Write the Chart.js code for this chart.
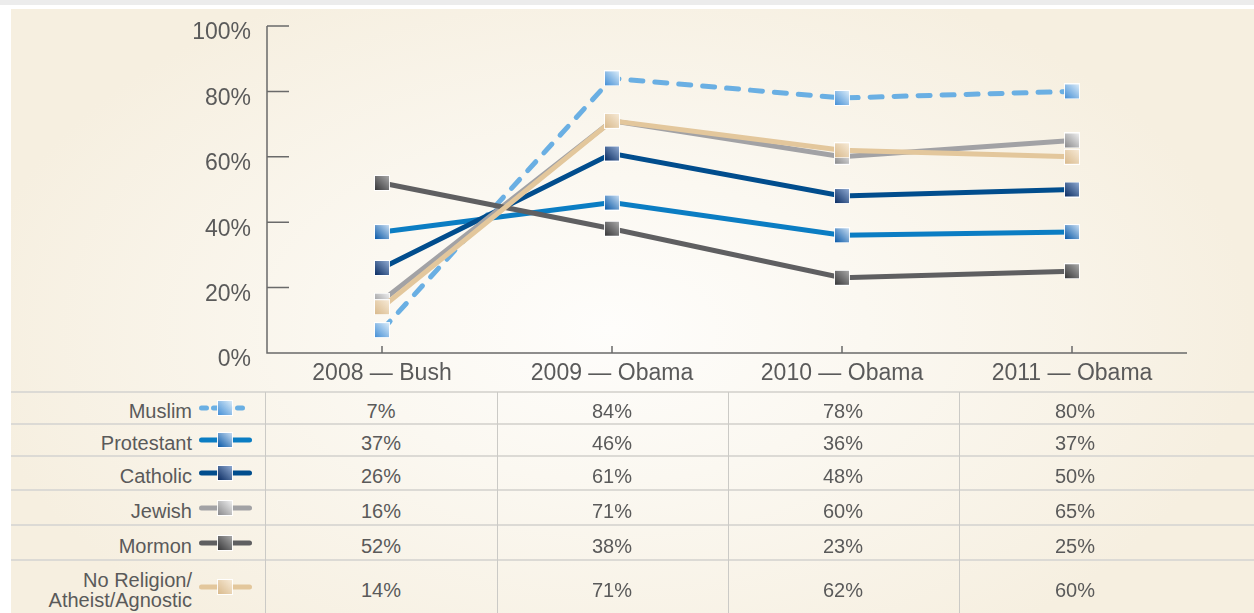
<!DOCTYPE html>
<html lang="en">
<head>
  <meta charset="UTF-8">
  <title>Approval by religious group, 2008–2011</title>
  <script src="https://cdn.jsdelivr.net/npm/chart.js"></script>
  <style>
    html, body { margin: 0; padding: 0; }
    body {
      width: 1254px; height: 613px; position: relative; overflow: hidden;
      background: #ffffff;
      font-family: 'Liberation Sans', Arial, Helvetica, sans-serif;
      color: #5a5a5a;
    }
    .top-band { position: absolute; left: 0; top: 0; width: 1254px; height: 5px; background: #ececec; }
    .panel {
      position: absolute; left: 11px; top: 9px; right: 0; bottom: 0;
      background: radial-gradient(ellipse 640px 380px at 600px 320px, #fefdfb 0%, #fbf8f1 40%, #f6efe0 100%);
    }
    #chartWrap { position: absolute; left: 0; top: 0; width: 1254px; height: 392px; }
    .hline { position: absolute; left: 11px; right: 0; height: 2px; background: #dcdad5; }
    .vline { position: absolute; top: 392px; bottom: 0; width: 1px; background: #cbcac6; }
    .rowlabel {
      position: absolute; right: 1062px; text-align: right; font-size: 20px; line-height: 20px;
      white-space: nowrap;
    }
    .cell { position: absolute; width: 120px; margin-left: -60px; text-align: center; font-size: 20px; line-height: 20px; }
    .swatch { position: absolute; left: 195px; }
  </style>
</head>
<body>
  <div class="top-band"></div>
  <div class="panel"></div>
  <div id="chartWrap"><canvas id="chart" width="1254" height="392"></canvas></div>
  <div id="table"></div>

  <script>
    // Categories and values (percent)
    const years = ['2008 — Bush', '2009 — Obama', '2010 — Obama', '2011 — Obama'];
    const yTicks = [0, 20, 40, 60, 80, 100];
    const muslim = [7, 84, 78, 80];
    const protestant = [37, 46, 36, 37];
    const catholic = [26, 61, 48, 50];
    const jewish = [16, 71, 60, 65];
    const mormon = [52, 38, 23, 25];
    const noReligion = [14, 71, 62, 60];

    const groups = [
      { label: ['Muslim'], data: muslim, line: '#6aafe3', light: '#d9ebf9', dark: '#4690d6', dash: true },
      { label: ['Protestant'], data: protestant, line: '#0b7dc3', light: '#c6dcf2', dark: '#0b5aa8' },
      { label: ['Catholic'], data: catholic, line: '#014d8d', light: '#8ea9d1', dark: '#0b2d63' },
      { label: ['Jewish'], data: jewish, line: '#a2a2a5', light: '#eeeeee', dark: '#8a8a8c' },
      { label: ['Mormon'], data: mormon, line: '#5f5f61', light: '#a8a8a8', dark: '#38383a' },
      { label: ['No Religion/', 'Atheist/Agnostic'], data: noReligion, line: '#e3c79c', light: '#f7ead6', dark: '#d9ba8d' }
    ];

    // small square marker with a diagonal shade
    function makeMarker(light, dark, size) {
      const c = document.createElement('canvas');
      c.width = c.height = size;
      const g = c.getContext('2d');
      g.fillStyle = 'rgba(255,255,255,0.9)';
      g.fillRect(0, 0, size, size);
      const grad = g.createLinearGradient(1, size - 1, size - 1, 1);
      grad.addColorStop(0, dark);
      grad.addColorStop(1, light);
      g.fillStyle = grad;
      g.fillRect(1, 1, size - 2, size - 2);
      return c;
    }

    groups.forEach(gr => { gr.marker = makeMarker(gr.light, gr.dark, 16); });

    // stacking: the tan line sits on top
    const drawOrder = [5, 4, 3, 2, 1, 0];

    const axisLines = {
      id: 'axisLines',
      beforeDatasetsDraw(chart) {
        const { ctx, scales: { x, y } } = chart;
        ctx.save();
        ctx.strokeStyle = '#6a6a6a';
        ctx.lineWidth = 1.5;
        ctx.beginPath();
        ctx.moveTo(x.left, y.top);
        ctx.lineTo(x.left, y.bottom);
        ctx.lineTo(x.right, y.bottom);
        y.ticks.forEach(t => {
          const py = y.getPixelForValue(t.value);
          if (t.value === 0) return;
          ctx.moveTo(x.left, py);
          ctx.lineTo(x.left + 22, py);
        });
        x.ticks.forEach((t, i) => {
          const px = x.getPixelForTick(i);
          ctx.moveTo(px, y.bottom);
          ctx.lineTo(px, y.bottom - 7);
        });
        ctx.stroke();
        ctx.restore();
      }
    };

    Chart.defaults.font.family = "'Liberation Sans', Arial, Helvetica, sans-serif";
    Chart.defaults.color = '#5a5a5a';

    new Chart(document.getElementById('chart'), {
      type: 'line',
      data: {
        labels: years,
        datasets: groups.map((gr, i) => ({
          label: gr.label.join(' '),
          data: gr.data,
          borderColor: gr.line,
          borderWidth: 5,
          borderDash: gr.dash ? [12, 12] : [],
          borderCapStyle: gr.dash ? 'round' : 'butt',
          tension: 0,
          pointStyle: gr.marker,
          pointRadius: 8,
          pointHoverRadius: 8,
          order: drawOrder[i]
        }))
      },
      options: {
        responsive: false,
        animation: false,
        events: [],
        layout: { padding: { top: 26, right: 67, left: 0, bottom: 0 } },
        plugins: { legend: { display: false }, tooltip: { enabled: false } },
        scales: {
          x: {
            offset: true,
            grid: { display: false, drawTicks: false, tickLength: 0 },
            border: { display: false },
            ticks: { font: { size: 23 }, padding: 7, color: '#5a5a5a' },
            afterFit: s => { s.height = 39; s.paddingLeft = 0; s.paddingRight = 0; }
          },
          y: {
            min: 0, max: 100,
            grid: { display: false, drawTicks: false, tickLength: 0 },
            border: { display: false },
            afterBuildTicks: s => { s.ticks = yTicks.map(v => ({ value: v })); },
            ticks: { font: { size: 23 }, padding: 16, labelOffset: 7, color: '#5a5a5a', callback: v => v + '%' },
            afterFit: s => { s.width = 267; s.paddingTop = 0; s.paddingBottom = 0; }
          }
        }
      },
      plugins: [axisLines]
    });

    // data table below the plot
    const table = document.getElementById('table');
    const rowTops = [392, 424, 456, 490, 525, 560, 613];
    const colLines = [265, 497, 728, 959];
    const colCenters = [381, 612, 843, 1075];

    rowTops.slice(0, 6).forEach(t => {
      const h = document.createElement('div');
      h.className = 'hline';
      h.style.top = (t - 1) + 'px';
      table.appendChild(h);
    });
    colLines.forEach(x => {
      const v = document.createElement('div');
      v.className = 'vline';
      v.style.left = x + 'px';
      table.appendChild(v);
    });

    groups.forEach((gr, r) => {
      const mid = (rowTops[r] + rowTops[r + 1]) / 2 + 3;
      const lab = document.createElement('div');
      lab.className = 'rowlabel';
      lab.innerHTML = gr.label.join('<br>');
      lab.style.top = (mid - gr.label.length * 10) + 'px';
      table.appendChild(lab);

      // legend swatch: line + marker
      const sw = document.createElement('canvas');
      sw.className = 'swatch';
      sw.width = 62; sw.height = 20;
      sw.style.top = (mid - 13) + 'px';
      const g = sw.getContext('2d');
      g.strokeStyle = gr.line;
      g.lineWidth = 5;
      g.lineCap = 'round';
      if (gr.dash) g.setLineDash([5, 7]);
      g.beginPath();
      g.moveTo(6.5, 10);
      g.lineTo(54.5, 10);
      g.stroke();
      g.drawImage(gr.marker, 22, 2);
      table.appendChild(sw);

      gr.data.forEach((v, c) => {
        const cell = document.createElement('div');
        cell.className = 'cell';
        cell.textContent = v + '%';
        cell.style.left = colCenters[c] + 'px';
        cell.style.top = (mid - 10) + 'px';
        table.appendChild(cell);
      });
    });
  </script>
</body>
</html>
